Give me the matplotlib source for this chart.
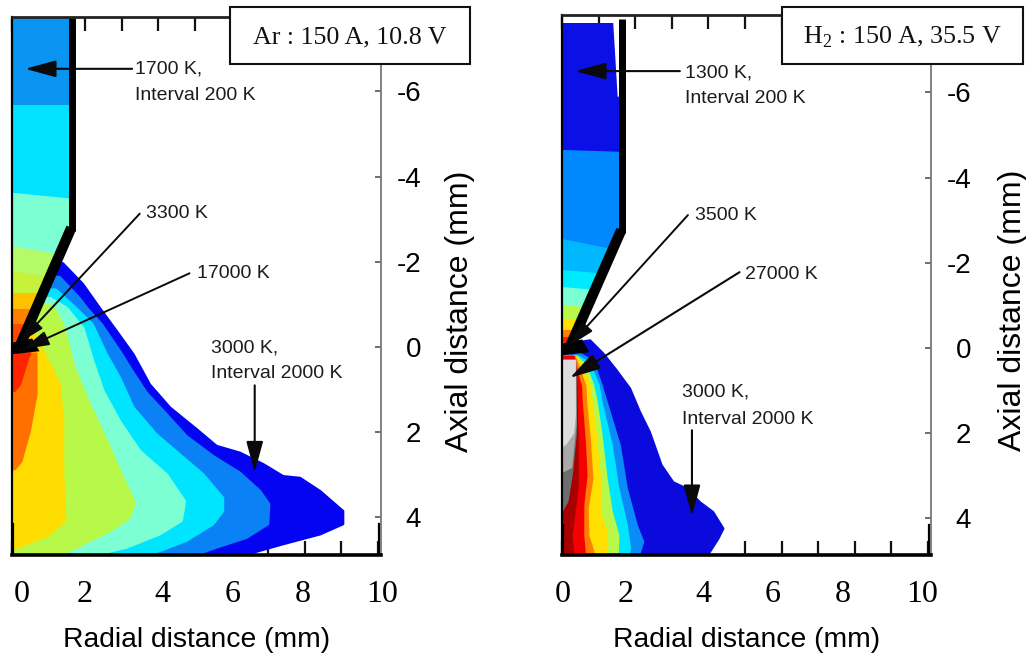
import matplotlib
matplotlib.use("Agg")
import matplotlib.pyplot as plt
import numpy as np
from matplotlib.patches import Polygon, Rectangle
from matplotlib.transforms import ScaledTranslation

plt.rcParams['mathtext.fontset'] = 'custom'
plt.rcParams['mathtext.rm'] = 'Liberation Serif'

W, H = 1026, 658
SANS, SERIF = 'Liberation Sans', 'Liberation Serif'

# ---------- data: isotherm outlines (radial mm, axial mm) ----------
AR_BLUE_R = [1.15, 1.39, 1.94, 2.40, 2.86, 3.32, 3.77, 4.32, 5.05, 5.59, 6.23, 6.87, 7.41, 7.87, 8.42, 9.05, 9.05, 8.42, 7.41, 6.59, 6.05]
AR_BLUE_Z = [-1.95, -1.97, -1.48, -0.92, -0.38, 0.17, 0.88, 1.42, 1.93, 2.32, 2.48, 2.75, 3.03, 3.07, 3.38, 3.85, 4.16, 4.40, 4.63, 4.83, 4.9]
AR_MID_R = [1.0, 1.3, 1.85, 2.05, 2.45, 2.95, 3.32, 3.68, 4.23, 4.77, 5.50, 6.23, 6.78, 7.03, 7.00, 6.41, 5.59, 4.95]
AR_MID_Z = [-1.65, -1.65, -1.15, -0.92, -0.54, 0.09, 0.60, 1.07, 1.58, 2.09, 2.56, 2.95, 3.38, 3.69, 4.16, 4.48, 4.71, 4.9]
AR_CYAN_R = [1.2, 1.75, 2.2, 2.59, 2.95, 3.32, 3.95, 4.59, 5.23, 5.77, 5.77, 5.50, 4.77, 4.04, 3.50]
AR_CYAN_Z = [-1.35, -0.92, -0.54, 0.17, 0.72, 1.42, 2.05, 2.52, 2.99, 3.54, 3.85, 4.16, 4.55, 4.79, 4.9]
AR_AQUA_R = [1.05, 1.5, 1.86, 1.95, 2.22, 2.50, 2.95, 3.50, 4.23, 4.73, 4.64, 4.04, 3.13, 2.22]
AR_AQUA_Z = [-1.15, -0.92, -0.54, -0.45, 0.33, 1.03, 1.74, 2.44, 2.99, 3.62, 4.08, 4.40, 4.71, 4.9]
AR_LIME_R = [0.95, 1.15, 1.39, 1.50, 1.68, 2.13, 2.68, 3.04, 3.36, 3.22, 2.68, 1.95, 1.31]
AR_LIME_Z = [-1.0, -0.92, -0.54, -0.22, 0.41, 1.35, 2.36, 3.07, 3.65, 4.01, 4.32, 4.63, 4.9]
AR_YELLOW_R = [0.6, 0.75, 0.85, 1.12, 1.31, 1.40, 1.40, 1.45, 1.04, 0.40, 0.04]
AR_YELLOW_Z = [-0.3, -0.1, 0.1, 0.55, 0.9, 1.74, 2.91, 4.08, 4.40, 4.63, 4.75]
AR_ORANGE_R = [0.67, 0.67, 0.49, 0.26, 0.08]
AR_ORANGE_Z = [0.15, 1.11, 1.97, 2.68, 2.87]
AR_RED_R = [0.5, 0.45, 0.22, 0.08]
AR_RED_Z = [0.15, 0.25, 0.88, 1.03]

H2_BLUE_R = [0.45, 0.77, 1.13, 1.49, 1.86, 2.13, 2.40, 2.72, 3.04, 3.41, 3.77, 4.13, 4.41, 4.27, 4.04, 3.95]
H2_BLUE_Z = [-0.14, -0.18, 0.13, 0.52, 0.95, 1.5, 1.97, 2.75, 3.15, 3.3, 3.62, 3.85, 4.24, 4.48, 4.79, 4.9]
H2_MID_R = [0.45, 0.85, 1.08, 1.22, 1.58, 1.77, 2.04, 2.22, 2.09]
H2_MID_Z = [0.12, 0.30, 0.87, 1.27, 2.29, 3.30, 4.16, 4.55, 4.9]
H2_CYAN_R = [0.45, 0.75, 1.0, 1.08, 1.36, 1.54, 1.77, 1.86, 1.81]
H2_CYAN_Z = [0.2, 0.35, 0.87, 1.27, 2.29, 3.30, 4.16, 4.71, 4.9]
H2_LIME_R = [0.40, 0.65, 0.85, 0.95, 1.08, 1.22, 1.36, 1.54, 1.52]
H2_LIME_Z = [0.2, 0.4, 0.87, 1.27, 2.05, 3.07, 3.85, 4.4, 4.9]
H2_YELLOW_R = [0.38, 0.55, 0.75, 0.81, 0.95, 1.04, 1.04, 1.22, 1.22]
H2_YELLOW_Z = [0.2, 0.4, 0.87, 1.27, 2.2, 3.07, 3.85, 4.32, 4.9]
H2_ORANGE_R = [0.35, 0.48, 0.64, 0.66, 0.76, 0.83, 0.70, 0.72, 0.90]
H2_ORANGE_Z = [0.2, 0.5, 0.9, 1.27, 2.13, 3.07, 3.77, 4.4, 4.9]
H2_RED_R = [0.32, 0.42, 0.52, 0.54, 0.63, 0.67, 0.58, 0.58, 0.63]
H2_RED_Z = [0.2, 0.6, 0.9, 1.27, 2.29, 2.99, 3.69, 4.4, 4.9]
H2_DARKRED_R = [0.33, 0.40, 0.40, 0.43, 0.43, 0.36, 0.26, 0.31]
H2_DARKRED_Z = [0.3, 0.9, 1.27, 2.29, 3.22, 3.77, 4.4, 4.9]
H2_DGRAY_R = [0.36, 0.38, 0.38, 0.28, 0.15, 0.02]
H2_DGRAY_Z = [0.3, 1.27, 2.0, 2.9, 3.6, 3.8]
H2_MGRAY_R = [0.36, 0.37, 0.30, 0.25, 0.02]
H2_MGRAY_Z = [0.3, 1.8, 2.4, 2.8, 2.9]
H2_LGRAY_R = [0.35, 0.35, 0.30, 0.10, 0.02]
H2_LGRAY_Z = [0.3, 1.6, 2.0, 2.25, 2.3]

# electrode-interior isotherm tops (z at axis, z at wall)
AR_ZONE_AXIS = [-7.75, -5.68, -3.62, -2.37, -1.78, -1.27, -0.89, -0.54]
AR_ZONE_WALL = [-7.75, -5.68, -3.47, -2.09, -1.55, -1.27, -0.89, -0.54]
AR_ZONE_COLORS = ['#0a94f2', '#00e2ff', '#7dffd4', '#b4fb6a', '#c6f23c', '#ffc000', '#ff8000', '#ff4a00']
H2_ZONE_AXIS = [-7.63, -4.65, -2.56, -1.83, -1.43, -1.0, -0.66, -0.42, -0.26]
H2_ZONE_WALL = [-7.63, -4.60, -2.25, -1.70, -1.30, -0.9, -0.66, -0.42, -0.26]
H2_ZONE_COLORS = ['#0a10e6', '#0088ff', '#00b8ff', '#00eaff', '#7dffd4', '#b8f848', '#ffe000', '#ff8000', '#ff2000']

# electrode wall: straight part, then cone
AR_STEM_R = [1.64, 1.64]
AR_STEM_Z = [-7.72, -2.72]
AR_CONE_R = [1.62, 0.15]
AR_CONE_Z = [-2.80, 0.10]
H2_STEM_R = [1.64, 1.64]
H2_STEM_Z = [-7.72, -2.70]
H2_CONE_R = [1.62, 0.15]
H2_CONE_Z = [-2.77, 0.10]
AR_INNER_R = [0.0, 1.64, 1.64, 0.0]
AR_INNER_Z = [-7.75, -7.75, -2.80, 0.15]
H2_INNER_R = [0.0, 1.40, 1.52, 1.64, 1.64, 0.0]
H2_INNER_Z = [-7.63, -7.63, -5.9, -5.9, -2.77, 0.15]
TIP_R = [0.0, 0.75, 0.55, 0.0]
TIP_Z = [0.17, 0.10, -0.20, -0.10]

X_TICKS = [0, 2, 4, 6, 8, 10]
X_MINOR = [1, 3, 5, 7, 9]
Y_TICKS = [-6, -4, -2, 0, 2, 4]
AR_XLABEL_SHIFT = [10, -1, 4, 1, -2, 4]
H2_XLABEL_SHIFT = [1, -10, -5, -9, -12, -6]


def ax_px(left, right, top, bottom):
    return fig.add_axes([left / W, 1 - bottom / H, (right - left) / W, (bottom - top) / H])


def fill_band(ax, r, z, color):
    ax.fill(np.r_[0, r, 0], np.r_[z[0], z, z[-1]], facecolor=color, edgecolor=color, lw=1.5,
            joinstyle='round', zorder=2)


def z_of(py, zero_px):
    return (py - zero_px) / 42.6


def panel(ax, bands, zones, inner, stem, cone, zero_px, top_px, shifts):
    for r, z, c in bands:
        fill_band(ax, r, z, c)
    clip = Polygon(np.c_[inner[0], inner[1]], transform=ax.transData, fc='none', ec='none')
    ax.add_patch(clip)
    for a, b, c in zip(*zones):
        p = ax.fill([0, 1.8, 1.8, 0], [a, b, 0.3, 0.3], color=c, lw=0, zorder=3)[0]
        p.set_clip_path(clip)
    ax.plot(stem[0], stem[1], color='k', lw=5, zorder=4, solid_capstyle='butt', clip_on=False)
    ax.plot(cone[0], cone[1], color='k', lw=7.5, zorder=4, solid_capstyle='butt', clip_on=False)
    ax.fill(TIP_R, TIP_Z, color='k', lw=0, zorder=4)

    ax.set_xlim(0, 10.08)
    ax.set_ylim(z_of(555, zero_px), z_of(top_px, zero_px))
    ax.set_xticks(X_TICKS)
    ax.set_xticks(X_MINOR, minor=True)
    ax.set_yticks(Y_TICKS)
    ax.set_xticklabels([str(v) for v in X_TICKS], fontfamily=SERIF, fontsize=23)
    ax.tick_params(axis='x', which='both', direction='in', length=10, width=1.6, top=True,
                   pad=18, color='#111111')
    ax.tick_params(axis='y', direction='in', length=4, width=1.2, left=True, right=True,
                   labelleft=False, labelright=True, pad=29, color='#555555')
    for lbl, dx in zip(ax.get_xticklabels(), shifts):
        lbl.set_transform(lbl.get_transform() + ScaledTranslation(dx / 100, 0, fig.dpi_scale_trans))
    ax.set_yticklabels([str(v) for v in Y_TICKS], fontfamily=SANS, fontsize=20, ha='right')
    for v in (0.02, 10.02):
        ax.plot([v, v], [4.15, 4.89], color='k', lw=1.6, zorder=5)
    for name, lw, col in (('left', 1.6, 'k'), ('bottom', 2.6, 'k'), ('top', 2.0, '#222222'), ('right', 1.3, '#777777')):
        ax.spines[name].set_linewidth(lw)
        ax.spines[name].set_color(col)
    for s in ax.spines.values():
        s.set_zorder(6)


def note(ax, text, r, z, **kw):
    ax.text(r, z, text, fontfamily=SANS, fontsize=14, color='#1c1c1c', va='center', ha='left',
            clip_on=False, zorder=8, **kw)


def arrow(ax, r0, z0, r1, z1, lw=1.5, hl=19, hw=5.2):
    ax.annotate('', xy=(r1, z1), xytext=(r0, z0), annotation_clip=False, zorder=7,
                arrowprops=dict(arrowstyle=f'-|>,head_length={hl},head_width={hw}', mutation_scale=1,
                                lw=lw, color='#0a0a0a', shrinkA=0, shrinkB=0))


fig = plt.figure(figsize=(W / 100, H / 100), dpi=100, facecolor='white')
ax1 = ax_px(12, 381, 17, 555)
ax2 = ax_px(562, 931, 15, 555)

BLUE, MID, CYAN, AQUA, LIME = '#0404f2', '#0a82f5', '#00e5ff', '#7dffd4', '#b8f848'
YELLOW, ORANGE, RED = '#ffdd00', '#ff7000', '#ff2400'

panel(ax1,
      [(AR_BLUE_R, AR_BLUE_Z, BLUE), (AR_MID_R, AR_MID_Z, MID), (AR_CYAN_R, AR_CYAN_Z, CYAN),
       (AR_AQUA_R, AR_AQUA_Z, AQUA), (AR_LIME_R, AR_LIME_Z, LIME), (AR_YELLOW_R, AR_YELLOW_Z, YELLOW),
       (AR_ORANGE_R, AR_ORANGE_Z, ORANGE), (AR_RED_R, AR_RED_Z, RED)],
      (AR_ZONE_AXIS, AR_ZONE_WALL, AR_ZONE_COLORS), (AR_INNER_R, AR_INNER_Z),
      (AR_STEM_R, AR_STEM_Z), (AR_CONE_R, AR_CONE_Z), 347, 17, AR_XLABEL_SHIFT)
panel(ax2,
      [(H2_BLUE_R, H2_BLUE_Z, '#0a0adc'), (H2_MID_R, H2_MID_Z, '#0a8cf8'), (H2_CYAN_R, H2_CYAN_Z, CYAN),
       (H2_LIME_R, H2_LIME_Z, LIME), (H2_YELLOW_R, H2_YELLOW_Z, '#ffe000'), (H2_ORANGE_R, H2_ORANGE_Z, '#ff8000'),
       (H2_RED_R, H2_RED_Z, '#f40000'), (H2_DARKRED_R, H2_DARKRED_Z, '#a80000'),
       (H2_DGRAY_R, H2_DGRAY_Z, '#6e6e6e'), (H2_MGRAY_R, H2_MGRAY_Z, '#a9a9a9'), (H2_LGRAY_R, H2_LGRAY_Z, '#dcdcdc')],
      (H2_ZONE_AXIS, H2_ZONE_WALL, H2_ZONE_COLORS), (H2_INNER_R, H2_INNER_Z),
      (H2_STEM_R, H2_STEM_Z), (H2_CONE_R, H2_CONE_Z), 348, 15, H2_XLABEL_SHIFT)

for ax, ylx in ((ax1, 1.213), (ax2, 1.222)):
    ax.set_xlabel('Radial distance (mm)', fontfamily=SANS, fontsize=20.3, va='center')
    ax.xaxis.set_label_coords(0.5, -0.158)
    ax.set_ylabel('Axial distance (mm)', fontfamily=SANS, fontsize=23, va='center', ha='center', rotation=90)
    ax.yaxis.set_label_coords(ylx, 0.453)

# Ar annotations
note(ax1, '1700 K,', 3.36, -6.53)
note(ax1, 'Interval 200 K', 3.36, -5.9)
note(ax1, '3300 K', 3.66, -3.13)
note(ax1, '17000 K', 5.05, -1.73)
note(ax1, '3000 K,', 5.44, 0.03)
note(ax1, 'Interval 2000 K', 5.44, 0.63)
arrow(ax1, 3.28, -6.53, 0.36, -6.53)
arrow(ax1, 3.49, -3.13, 0.20, -0.10, lw=1.4, hl=16, hw=4.5)
arrow(ax1, 4.85, -1.73, 0.30, 0.05, lw=1.4, hl=16, hw=4.5)
arrow(ax1, 6.63, 0.90, 6.63, 2.94)

# H2 annotations
note(ax2, '1300 K,', 3.36, -6.45)
note(ax2, 'Interval 200 K', 3.36, -5.85)
note(ax2, '3500 K', 3.63, -3.10)
note(ax2, '27000 K', 5.0, -1.73)
note(ax2, '3000 K,', 3.27, 1.03)
note(ax2, 'Interval 2000 K', 3.27, 1.69)
arrow(ax2, 3.22, -6.5, 0.36, -6.5)
arrow(ax2, 3.44, -3.12, 0.20, -0.05, lw=1.4, hl=16, hw=4.5)
arrow(ax2, 4.85, -1.78, 0.22, 0.70, lw=1.5, hl=19, hw=5.2)
arrow(ax2, 3.55, 1.93, 3.55, 3.94)

# condition boxes
for x0, x1, label in ((230, 470, 'Ar : 150 A, 10.8 V'),
                      (782, 1023, r'H$_{\mathrm{2}}$ : 150 A, 35.5 V')):
    fig.add_artist(Rectangle((x0 / W, 1 - 64 / H), (x1 - x0) / W, 57 / H, transform=fig.transFigure,
                             fc='white', ec='#111111', lw=1.5, zorder=10))
    fig.text((x0 + x1) / 2 / W, 1 - 37 / H, label, fontfamily=SERIF, fontsize=18.7, color='#111111',
             ha='center', va='center', zorder=11)

fig.savefig('out.png', dpi=100, facecolor='white')
